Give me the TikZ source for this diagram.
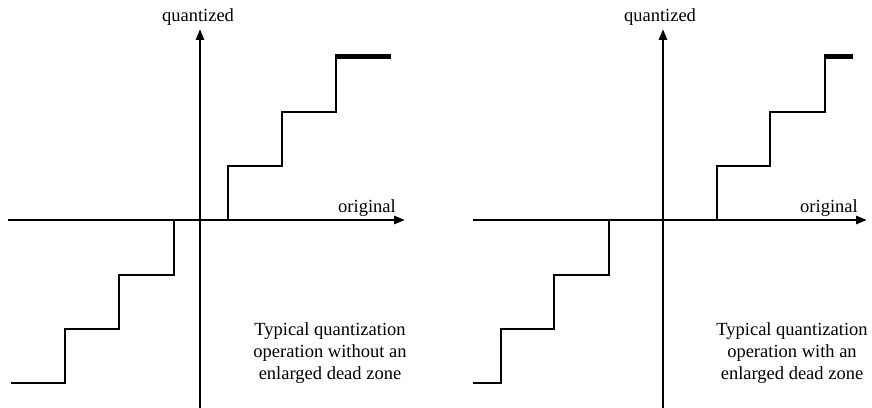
\documentclass[tikz,border=0pt]{standalone}
\usepackage{fontspec}
\setmainfont{Liberation Serif}
\usetikzlibrary{arrows.meta}
\begin{document}
\begin{tikzpicture}[x=1pt,y=1pt,
  axis/.style={line width=2.6pt,-{Triangle[length=11pt,width=8pt]}},
  stair/.style={line width=2.6pt,line join=miter},
  last/.style={line width=5pt},
  lbl/.style={font=\fontsize{18.5}{22}\selectfont,inner sep=0pt},
  note/.style={font=\fontsize{18.5}{22}\selectfont,align=center,inner sep=0pt}]
\useasboundingbox (0,0) rectangle (872,407);
% ---------- left panel ----------
\coordinate (Lxs) at (8,187);  \coordinate (Lxe) at (405,187);
\coordinate (Lys) at (200,-2); \coordinate (Lye) at (200,378);
\draw[axis] (Lxs) -- (Lxe);
\draw[axis] (Lys) -- (Lye);
\draw[stair] (11,24) -- (65,24) -- (65,78) -- (119,78) -- (119,132) -- (174,132) -- (174,187);
\draw[stair] (228,187) -- (228,241) -- (282,241) -- (282,295) -- (336,295) -- (336,350);
\draw[last] (335,350) -- (391,350);
\node[lbl] (Lq) at (198,390) {quantized};
\node[lbl] (Lo) at (367,199) {original};
\node[note] (Lt) at (330,54) {Typical quantization\\operation without an\\enlarged dead zone};
% ---------- right panel ----------
\coordinate (Rxs) at (473,187); \coordinate (Rxe) at (867,187);
\coordinate (Rys) at (663,-2);  \coordinate (Rye) at (663,378);
\draw[axis] (Rxs) -- (Rxe);
\draw[axis] (Rys) -- (Rye);
\draw[stair] (473,24) -- (501,24) -- (501,78) -- (554,78) -- (554,132) -- (609,132) -- (609,187);
\draw[stair] (717,187) -- (717,241) -- (770,241) -- (770,295) -- (825,295) -- (825,350);
\draw[last] (824,350) -- (853,350);
\node[lbl] (Rq) at (660,390) {quantized};
\node[lbl] (Ro) at (829,199) {original};
\node[note] (Rt) at (792,54) {Typical quantization\\operation with an\\enlarged dead zone};
\end{tikzpicture}
\end{document}
